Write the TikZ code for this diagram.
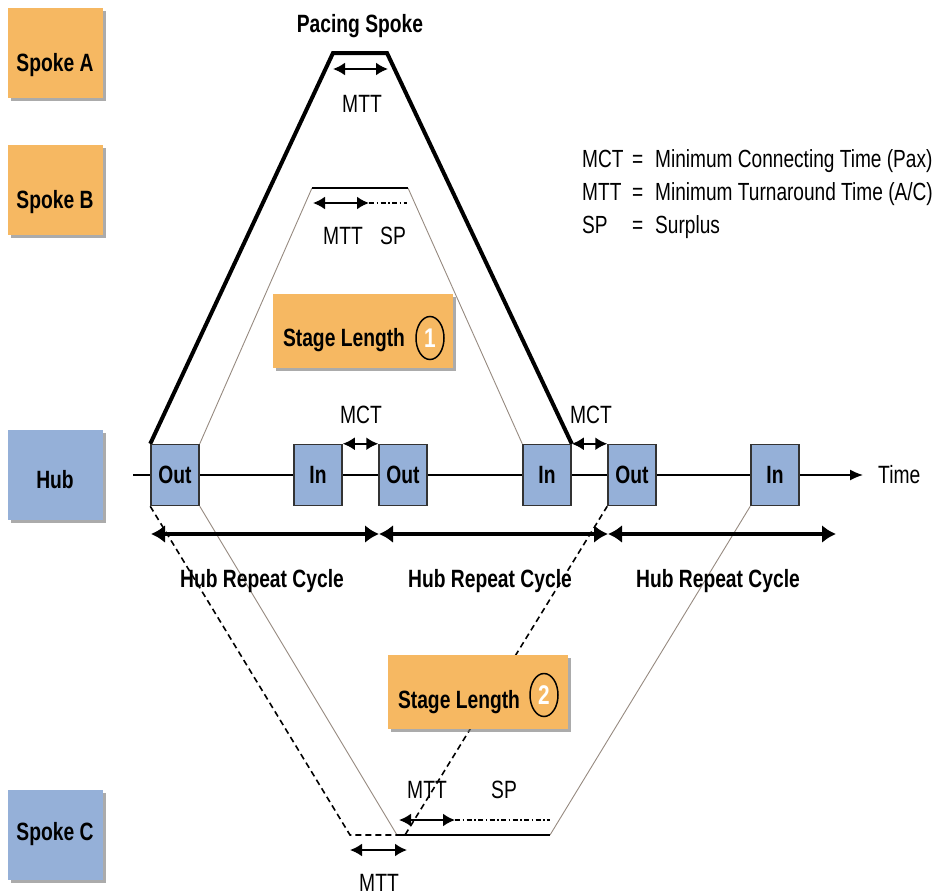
\documentclass[tikz,border=0pt]{standalone}
\usepackage{fontspec}
\setmainfont[FakeStretch=0.77]{Liberation Sans}
\usetikzlibrary{arrows.meta,shadows,shapes.geometric,backgrounds}
\definecolor{spokeorange}{RGB}{246,184,98}
\definecolor{hubblue}{RGB}{149,176,216}
\definecolor{routeline}{RGB}{150,138,128}
\newcommand{\labelsize}{\fontsize{25}{28}\selectfont}
\newcommand{\legendsize}{\fontsize{24.8}{28}\selectfont}
\tikzset{
  boxshadow/.style={drop shadow={shadow xshift=3pt,shadow yshift=-3pt,fill=black!55,opacity=0.6}},
  sidebox/.style={minimum width=95pt,minimum height=90pt,inner sep=0pt,boxshadow},
  orangebox/.style={sidebox,fill=spokeorange},
  bluebox/.style={sidebox,fill=hubblue},
  stagebox/.style={fill=spokeorange,minimum width=180pt,minimum height=74pt,inner sep=0pt,boxshadow},
  slot/.style={draw=black!80,line width=1.5pt,fill=hubblue,minimum width=48pt,minimum height=61pt,
               inner sep=0pt,font=\bfseries\labelsize},
  txt/.style={inner sep=0pt,font=\labelsize,anchor=base},
  btxt/.style={inner sep=0pt,font=\bfseries\labelsize,anchor=base},
  legtxt/.style={inner sep=0pt,font=\legendsize,anchor=base west},
  digit/.style={ellipse,draw=black,line width=1.5pt,minimum width=28pt,minimum height=43pt,
                inner sep=0pt,text=white,font=\fontsize{27}{30}\selectfont},
  pacing/.style={line width=4pt},
  route/.style={draw=routeline,line width=0.9pt},
  ground/.style={line width=2pt},
  dashroute/.style={line width=1.6pt,dash pattern=on 6pt off 4pt},
  surplus/.style={line width=1.3pt,dash pattern=on 5pt off 2.5pt on 1.5pt off 2.5pt},
  twoway/.style={{Latex[length=12pt,width=13pt]}-{Latex[length=12pt,width=13pt]},line width=2pt},
  repeatarrow/.style={{Latex[length=14pt,width=18pt]}-{Latex[length=14pt,width=18pt]},line width=4pt},
  timeline/.style={-{Latex[length=13pt,width=11pt]},line width=1.3pt}
}
\begin{document}
\begin{tikzpicture}[x=1pt,y=-1pt]
\useasboundingbox (0,0) rectangle (937,895);

% station boxes on the left
\node[orangebox] (sa) at (55,53) {};
\node[btxt] (saT) at (55,71) {Spoke A};
\node[orangebox] (sb) at (55,190) {};
\node[btxt] (sbT) at (55,208) {Spoke B};
\node[bluebox] (hub) at (55,475) {};
\node[btxt] (hubT) at (55,488) {Hub};
\node[bluebox] (sc) at (55,835) {};
\node[btxt] (scT) at (55,840) {Spoke C};

% hub bank slots
\node[slot] (o1) at (175,475) {Out};
\node[slot] (i1) at (318,475) {In};
\node[slot] (o2) at (403,475) {Out};
\node[slot] (i2) at (547,475) {In};
\node[slot] (o3) at (632,475) {Out};
\node[slot] (i3) at (775,475) {In};

% stage length boxes
\node[stagebox] (sl1) at (363,331) {};
\node[btxt] (sl1T) at (344,346) {Stage Length};
\node[digit] (sl1D) at (430,338) {\bfseries 1};
\node[stagebox] (sl2) at (477.5,691.5) {};
\node[btxt] (sl2T) at (459,708) {Stage Length};
\node[digit] (sl2D) at (544,695) {\bfseries 2};

% turning points of the rotations
\coordinate (pa1) at (333,53);
\coordinate (pa2) at (387,53);
\coordinate (pb1) at (312,188);
\coordinate (pb2) at (408,188);
\coordinate (pc1) at (397,835);
\coordinate (pc2) at (550,835);
\coordinate (pd1) at (350,835);
\coordinate (pd2) at (405,835);
\coordinate (tstart) at (133,475);
\coordinate (tend) at (863,475);
\coordinate (cyc0) at (151,534);
\coordinate (cyc1) at (379,534);
\coordinate (cyc2) at (608,534);
\coordinate (cyc3) at (836,534);

% interval markers
\coordinate (ma1) at (333,69);   \coordinate (ma2) at (388,69);
\coordinate (mb1) at (313,203);  \coordinate (mb2) at (369,203);  \coordinate (mb3) at (407,203);
\coordinate (mc1) at (399,820);  \coordinate (mc2) at (455,820);  \coordinate (mc3) at (550,820);
\coordinate (md1) at (350,850);  \coordinate (md2) at (407,850);

% labels
\node[btxt] (pacingT) at (360,32) {Pacing Spoke};
\node[txt] (mttA) at (362,112) {MTT};
\node[txt] (mttB) at (343,244) {MTT};
\node[txt] (spB) at (393,244) {SP};
\node[txt] (mct1) at (361,423) {MCT};
\node[txt] (mct2) at (591,423) {MCT};
\node[txt,anchor=base west] (timeT) at (878,483) {Time};
\node[btxt] (hrc1) at (262,587) {Hub Repeat Cycle};
\node[btxt] (hrc2) at (490,587) {Hub Repeat Cycle};
\node[btxt] (hrc3) at (718,587) {Hub Repeat Cycle};
\node[txt] (mttC) at (427,798) {MTT};
\node[txt] (spC) at (504,798) {SP};
\node[txt] (mttD) at (379,891) {MTT};

% legend
\node[legtxt] (lg1a) at (582,167) {MCT};
\node[legtxt] (lg1b) at (632,167) {=};
\node[legtxt] (lg1c) at (655,167) {Minimum Connecting Time (Pax)};
\node[legtxt] (lg2a) at (582,200) {MTT};
\node[legtxt] (lg2b) at (632,200) {=};
\node[legtxt] (lg2c) at (655,200) {Minimum Turnaround Time (A/C)};
\node[legtxt] (lg3a) at (582,233) {SP};
\node[legtxt] (lg3b) at (632,233) {=};
\node[legtxt] (lg3c) at (655,233) {Surplus};

\begin{scope}[on background layer]
  % time axis through the hub
  \draw[timeline] (tstart) -- (tend);
  % spoke B rotation
  \draw[route] (o1.north east) -- (pb1);
  \draw[route] (pb2) -- (i2.north west);
  \draw[ground] (pb1) -- (pb2);
  % spoke C rotations
  \draw[route] (o1.south east) -- (pc1);
  \draw[route] (pc2) -- (i3.south west);
  \draw[dashroute] (o1.south west) -- (pd1) -- (pd2) -- (o3.south west);
  \draw[ground] (pc1) -- (pc2);
  % pacing spoke A rotation
  \draw[pacing] (o1.north west) -- (pa1) -- (pa2) -- (i2.north east);
  % turnaround and surplus markers
  \draw[twoway] (ma1) -- (ma2);
  \draw[twoway] (mb1) -- (mb2);
  \draw[surplus] (mb2) -- (mb3);
  \draw[twoway] (mc1) -- (mc2);
  \draw[surplus] (mc2) -- (mc3);
  \draw[twoway] (md1) -- (md2);
  % minimum connecting times
  \draw[twoway] (i1.north east) -- (o2.north west);
  \draw[twoway] (i2.north east) -- (o3.north west);
  % hub repeat cycles
  \draw[repeatarrow] (cyc0) -- (cyc1);
  \draw[repeatarrow] (cyc1) -- (cyc2);
  \draw[repeatarrow] (cyc2) -- (cyc3);
\end{scope}
\end{tikzpicture}
\end{document}
